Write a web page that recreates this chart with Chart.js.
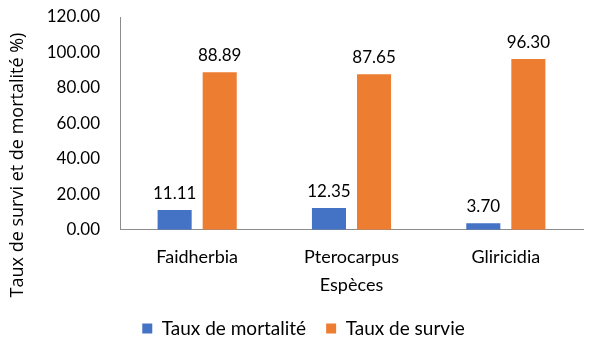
<!DOCTYPE html>
<html><head><meta charset="utf-8">
<script src="https://cdn.jsdelivr.net/npm/chart.js@4/dist/chart.umd.min.js"></script>
<style>html,body{margin:0;padding:0;background:#fff}#wrap{width:600px;height:357px}</style>
</head><body><div id="wrap"><canvas id="c"></canvas></div>
<script>
const categories = ["Faidherbia", "Pterocarpus", "Gliricidia"];
const mortalite = [11.11, 12.35, 3.70];
const survie = [88.89, 87.65, 96.30];
const seriesNames = ["Taux de mortalité", "Taux de survie"];
const yTitle = "Taux de survi et de mortalité %)";
const xTitle = "Espèces";

const FONT = "Lato, 'Open Sans', sans-serif";
const labelPlugin = {
  id: 'valLabels',
  afterLayout(chart) {
    if (chart.legend) { chart.legend.left += 12; chart.legend.right += 12; }
  },
  afterDatasetsDraw(chart) {
    const ctx = chart.ctx;
    ctx.save();
    ctx.font = "17px " + FONT;
    ctx.fillStyle = "#000";
    ctx.textAlign = "center";
    ctx.textBaseline = "alphabetic";
    chart.data.datasets.forEach((ds, i) => {
      const meta = chart.getDatasetMeta(i);
      meta.data.forEach((el, j) => {
        ctx.fillText(ds.data[j].toFixed(2), el.x, el.y - 11);
      });
    });
    ctx.restore();
  },
  afterDraw(chart) {
    const ctx = chart.ctx;
    ctx.save();
    ctx.font = "18px 'Open Sans', sans-serif";
    ctx.fillStyle = "#000";
    ctx.textAlign = "center";
    ctx.textBaseline = "middle";
    ctx.translate(18, 165);
    ctx.rotate(-Math.PI / 2);
    ctx.fillText(yTitle, 0, 0);
    ctx.restore();
  }
};

new Chart(document.getElementById('c'), {
  type: 'bar',
  data: {
    labels: categories,
    datasets: [
      { label: seriesNames[0], data: mortalite, backgroundColor: '#4472C4', categoryPercentage: 0.584, barPercentage: 0.756 },
      { label: seriesNames[1], data: survie, backgroundColor: '#ED7D31', categoryPercentage: 0.584, barPercentage: 0.756 }
    ]
  },
  options: {
    responsive: true,
    maintainAspectRatio: false,
    animation: false,
    layout: { padding: { top: 17, right: 17, left: 0, bottom: 9 } },
    plugins: {
      legend: {
        position: 'bottom',
        labels: { font: { size: 19, family: FONT }, color: '#000', boxWidth: 10, boxHeight: 10, padding: 20 }
      },
      tooltip: { enabled: false },
      title: { display: false }
    },
    scales: {
      x: {
        grid: { display: false, drawTicks: false, tickLength: 0 },
        border: { display: true, color: '#8c8c8c', width: 1 },
        ticks: { font: { size: 18, family: FONT }, color: '#000', padding: 17, maxRotation: 0 },
        title: { display: true, text: xTitle, font: { size: 18, family: FONT }, color: '#000', padding: { top: -11, bottom: 3 } }
      },
      y: {
        min: 0, max: 120,
        grid: { display: false, drawTicks: false, tickLength: 0 },
        border: { display: true, color: '#8c8c8c', width: 1 },
        ticks: { stepSize: 20, font: { size: 17, family: FONT }, color: '#000', padding: 20, callback: v => v.toFixed(2) },
        title: { display: false },
        afterFit: s => { s.width = 120; s.paddingTop = 0; s.paddingBottom = 0; }
      }
    }
  },
  plugins: [labelPlugin]
});
</script></body></html>
